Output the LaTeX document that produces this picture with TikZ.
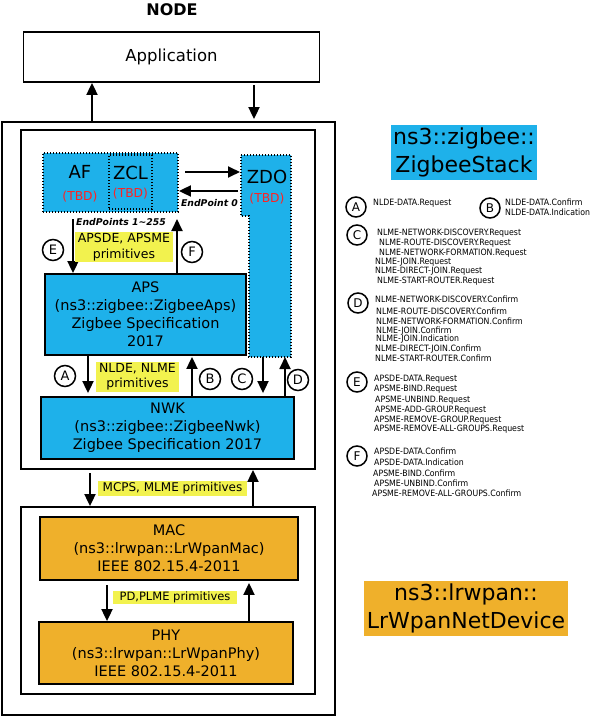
\documentclass[tikz,border=0pt]{standalone}
\usepackage{fontspec}
\setmainfont{DejaVu Sans}
\newfontfamily\condfont{DejaVu Sans Condensed}
\usetikzlibrary{arrows.meta}
\definecolor{zblue}{HTML}{1EB1EA}
\definecolor{lorange}{HTML}{EFB02B}
\definecolor{hlyellow}{HTML}{F2F24E}
\definecolor{tbdred}{HTML}{FF2222}
\begin{document}
\begin{tikzpicture}[x=1pt,y=-1pt,
  box/.style={draw, line width=1.8pt, align=center, inner sep=0pt},
  bluebox/.style={box, fill=zblue},
  orangebox/.style={box, fill=lorange},
  dotline/.style={line width=1.8pt, dash pattern=on 1.4pt off 1.6pt},
  dotbox/.style={fill=zblue, draw, dotline, inner sep=0pt, align=center},
  arr/.style={-{Triangle[length=12pt,width=11pt]}, line width=1.8pt},
  circ/.style={draw, circle, line width=1.5pt, minimum size=21pt, inner sep=0pt, font=\fontsize{13}{13}\selectfont},
  lcirc/.style={circ, minimum size=20pt, font=\fontsize{12}{12}\selectfont},
  hl/.style={fill=hlyellow, inner sep=0pt, align=center},
  main/.style={font=\fontsize{14.5}{18}\selectfont},
  lst/.style={anchor=west, inner sep=0pt, font=\condfont\fontsize{8.7}{9}\selectfont},
  big/.style={font=\fontsize{22}{28}\selectfont, align=center, inner sep=0pt},
  ep/.style={font=\bfseries\itshape\fontsize{9.3}{10}\selectfont, inner sep=0pt},
  tbd/.style={text=tbdred, font=\fontsize{12.3}{13}\selectfont, inner sep=0pt},
  lay/.style={font=\fontsize{18}{20}\selectfont, inner sep=0pt}]
\useasboundingbox (0,0) rectangle (591,717);

% title and application
\node[font=\bfseries\fontsize{16}{16}\selectfont] (title) at (172,10) {NODE};
\node[box, minimum width=296pt, minimum height=50pt, font=\fontsize{16.5}{18}\selectfont] (app) at (171.5,57) {Application};

% containers
\node[box, minimum width=333pt, minimum height=593pt] (outer) at (168.5,418.5) {};
\node[box, minimum width=294pt, minimum height=339pt] (zstack) at (168,299.5) {};
\node[box, minimum width=294pt, minimum height=187pt] (lrwpan) at (168,600.5) {};

\draw[arr] (outer.north -| 92,0) -- (app.south -| 92,0);
\draw[arr, shorten >=2pt] (254,85) -- (outer.north -| 254,0);

% AF / ZCL / ZDO
\node[dotbox, minimum width=135pt, minimum height=59pt] (af) at (110.5,182.5) {};
\node[draw, dotline, minimum width=43pt, minimum height=54pt, inner sep=0pt] (zcl) at (130.5,182) {};
\node[lay] (aft) at (80,172) {AF};
\node[tbd] (aftbd) at (80,197) {(TBD)};
\node[lay] (zclt) at (130.5,173) {ZCL};
\node[tbd] (zcltbd) at (130.5,194) {(TBD)};
\fill[zblue] (241,155) -- (291,155) -- (291,357) -- (249,357) -- (249,216) -- (241,216) -- cycle;
\draw[dotline] (241,155) -- (291,155) -- (291,357) -- (249,357) -- (249,216) -- (241,216) -- cycle;
\coordinate (zdoW1) at (240,172);
\coordinate (zdoW2) at (238,191);
\coordinate (zdoS) at (263,357);
\coordinate (zdoS2) at (285,357);
\node[lay] (zdot) at (267,177) {ZDO};
\node[tbd] (zdotbd) at (267,199) {(TBD)};
\draw[arr] (185,172) -- (zdoW1);
\draw[arr] (zdoW2) -- (af.east |- zdoW2);
\node[ep] (ep0) at (209.5,203) {EndPoint 0};
\node[ep] (ep1) at (121,222) {EndPoints 1{\char"7E}255};

% APS / NWK
\node[bluebox, main, minimum width=201pt, minimum height=81pt] (aps) at (145.5,314.5) {APS\\(ns3::zigbee::ZigbeeAps)\\Zigbee Specification\\2017};
\node[bluebox, main, minimum width=253pt, minimum height=62pt] (nwk) at (167.5,428) {NWK\\(ns3::zigbee::ZigbeeNwk)\\Zigbee Specification 2017};

\coordinate (eTop) at (73,219);
\coordinate (fTop) at (177,219);
\draw[arr] (eTop) -- (aps.north -| eTop);
\draw[arr] (aps.north -| fTop) -- (fTop);
\node[hl, minimum width=98pt, minimum height=30pt, font=\fontsize{12.5}{16}\selectfont] (apsde) at (124,247) {APSDE, APSME\\primitives};
\node[circ] (cE) at (53,250) {E};
\node[circ] (cF) at (192,252) {F};

\draw[arr, shorten >=3pt] (aps.south -| 88,0) -- (nwk.north -| 88,0);
\draw[arr, shorten >=1pt] (nwk.north -| 192,0) -- (aps.south -| 192,0);
\draw[arr, shorten >=3pt] (zdoS) -- (nwk.north -| zdoS);
\draw[arr] (nwk.north -| zdoS2) -- (zdoS2);
\node[hl, minimum width=83pt, minimum height=30pt, font=\fontsize{12.5}{15}\selectfont] (nlde) at (137.5,377) {NLDE, NLME\\primitives};
\node[circ] (cA) at (65,376) {A};
\node[circ] (cB) at (210,379) {B};
\node[circ] (cC) at (242,379) {C};
\node[circ] (cD) at (298,380) {D};

% MCPS
\draw[arr] (90,473) -- (lrwpan.north -| 90,0);
\draw[arr] (lrwpan.north -| 253,0) -- (zstack.south -| 253,0);
\node[hl, minimum width=149pt, minimum height=15pt, font=\fontsize{12}{14}\selectfont] (mcps) at (172.5,488) {MCPS, MLME primitives};

% MAC / PHY
\node[orangebox, main, minimum width=258pt, minimum height=63pt] (mac) at (169,548.5) {MAC\\(ns3::lrwpan::LrWpanMac)\\IEEE 802.15.4-2011};
\node[orangebox, main, minimum width=254pt, minimum height=62pt] (phy) at (166,653) {PHY\\(ns3::lrwpan::LrWpanPhy)\\IEEE 802.15.4-2011};
\draw[arr] (107,585) -- (phy.north -| 107,0);
\draw[arr, shorten >=2pt] (phy.north -| 249,0) -- (mac.south -| 249,0);
\node[hl, minimum width=124pt, minimum height=13pt, font=\fontsize{11.5}{13}\selectfont] (pd) at (175,597) {PD,PLME primitives};

% big labels
\node[big, fill=zblue, minimum width=146pt, minimum height=55pt] (zsl) at (464,152.5) {ns3::zigbee::\\ZigbeeStack};
\node[big, fill=lorange, minimum width=204pt, minimum height=55pt] (lwl) at (466,608) {ns3::lrwpan::\\LrWpanNetDevice};

% legend
\node[lcirc] (lA) at (356,207) {A};
\node[lst] (tA) at (373,203) {NLDE-DATA.Request};
\node[lcirc] (lB) at (490,208) {B};
\node[lst] (tB1) at (505,202) {NLDE-DATA.Confirm};
\node[lst] (tB2) at (505,212) {NLDE-DATA.Indication};

\node[lcirc] (lC) at (357,235) {C};
\node[lst] (tC1) at (377,233) {NLME-NETWORK-DISCOVERY.Request};
\node[lst] (tC2) at (379,243) {NLME-ROUTE-DISCOVERY.Request};
\node[lst] (tC3) at (379,253) {NLME-NETWORK-FORMATION.Request};
\node[lst] (tC4) at (375,262) {NLME-JOIN.Request};
\node[lst] (tC5) at (375,271) {NLME-DIRECT-JOIN.Request};
\node[lst] (tC6) at (377,281) {NLME-START-ROUTER.Request};

\node[lcirc] (lD) at (358,303) {D};
\node[lst] (tD1) at (375,299) {NLME-NETWORK-DISCOVERY.Confirm};
\node[lst] (tD2) at (376,311) {NLME-ROUTE-DISCOVERY.Confirm};
\node[lst] (tD3) at (376,321) {NLME-NETWORK-FORMATION.Confirm};
\node[lst] (tD4) at (376,331) {NLME-JOIN.Confirm};
\node[lst] (tD5) at (376,339) {NLME-JOIN.Indication};
\node[lst] (tD6) at (375,349) {NLME-DIRECT-JOIN.Confirm};
\node[lst] (tD7) at (375,358) {NLME-START-ROUTER.Confirm};

\node[lcirc] (lE) at (357,382) {E};
\node[lst] (tE1) at (374,379) {APSDE-DATA.Request};
\node[lst] (tE2) at (374,389) {APSME-BIND.Request};
\node[lst] (tE3) at (375,400) {APSME-UNBIND.Request};
\node[lst] (tE4) at (375,410) {APSME-ADD-GROUP.Request};
\node[lst] (tE5) at (374,420) {APSME-REMOVE-GROUP.Request};
\node[lst] (tE6) at (374,429) {APSME-REMOVE-ALL-GROUPS.Request};

\node[lcirc] (lF) at (357,456) {F};
\node[lst] (tF1) at (374,451) {APSDE-DATA.Confirm};
\node[lst] (tF2) at (374,462) {APSDE-DATA.Indication};
\node[lst] (tF3) at (373,473) {APSME-BIND.Confirm};
\node[lst] (tF4) at (374,483) {APSME-UNBIND.Confirm};
\node[lst] (tF5) at (372,493) {APSME-REMOVE-ALL-GROUPS.Confirm};
\end{tikzpicture}
\end{document}
